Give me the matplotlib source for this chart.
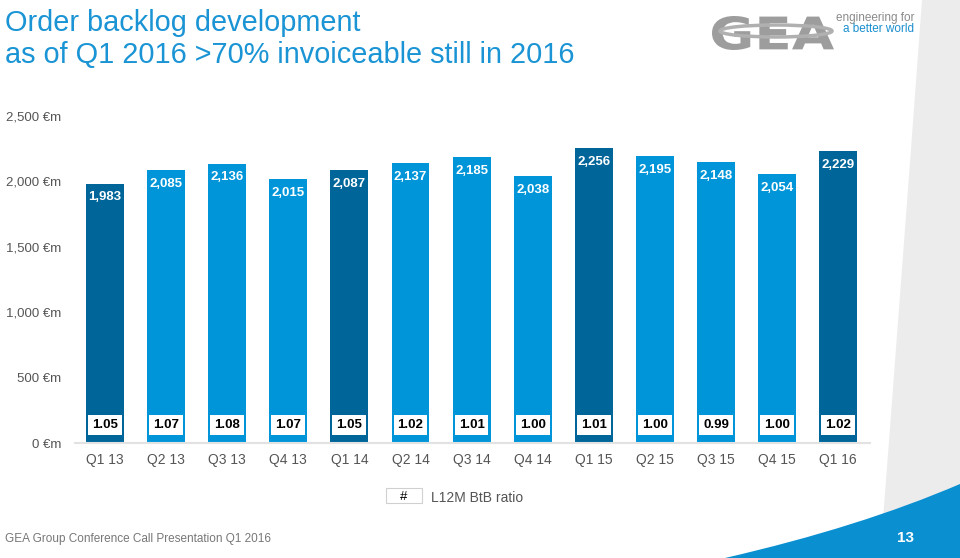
import numpy as np
import matplotlib.pyplot as plt
from matplotlib.patches import Rectangle, PathPatch, Ellipse
from matplotlib.path import Path
from matplotlib.textpath import TextPath
from matplotlib.font_manager import FontProperties
import matplotlib.transforms as mtransforms

quarters = ['Q1 13', 'Q2 13', 'Q3 13', 'Q4 13', 'Q1 14', 'Q2 14', 'Q3 14',
            'Q4 14', 'Q1 15', 'Q2 15', 'Q3 15', 'Q4 15', 'Q1 16']
backlog = [1983, 2085, 2136, 2015, 2087, 2137, 2185, 2038, 2256, 2195, 2148, 2054, 2229]
btb_ratio = ['1.05', '1.07', '1.08', '1.07', '1.05', '1.02', '1.01',
             '1.00', '1.01', '1.00', '0.99', '1.00', '1.02']
yticks = [0, 500, 1000, 1500, 2000, 2500]

dark = '#00669a'
light = '#0095d8'
grey_txt = '#555555'
colors = [dark if q.startswith('Q1') else light for q in quarters]

W, H = 960, 558
fig = plt.figure(figsize=(9.6, 5.58), dpi=100)
plt.rcParams['font.family'] = ['Liberation Sans', 'DejaVu Sans']

# background swoosh (bottom right)
bg = fig.add_axes([0, 0, 1, 1], zorder=-5)
bg.set_xlim(0, W)
bg.set_ylim(H, 0)
bg.axis('off')
grey_path = Path([(922, 0), (960, 0), (960, 558), (880, 558), (900, 300), (922, 0)],
                 [Path.MOVETO, Path.LINETO, Path.LINETO, Path.LINETO, Path.CURVE3, Path.CURVE3])
bg.add_patch(PathPatch(grey_path, fc='#ececec', ec='none'))
blue_path = Path([(725, 558), (860, 527), (960, 484), (960, 558), (725, 558)],
                 [Path.MOVETO, Path.CURVE3, Path.CURVE3, Path.LINETO, Path.CLOSEPOLY])
bg.add_patch(PathPatch(blue_path, fc='#0a8fd0', ec='none'))

# logo: stretch "GEA" into its box
tp = TextPath((0, 0), 'GEA', size=1, prop=FontProperties(family='DejaVu Sans', weight='bold'))
ext = tp.get_extents()
x0, x1, y0, y1 = 712, 834, 16, 50
logo_tf = mtransforms.Affine2D().translate(-ext.x0, -ext.y0) \
    .scale((x1 - x0) / ext.width, -(y1 - y0) / ext.height).translate(x0, y1)
bg.add_patch(PathPatch(logo_tf.transform_path(tp), fc='#9d9d9d', ec='none'))
bg.add_patch(Ellipse((776, 31), 112, 12, fill=False, ec='#b0b0b0', lw=2.5))
bg.text(836, 18, 'engineering for', fontsize=8.5, color='#8a8a8a', va='center', ha='left')
bg.text(843, 29, 'a better world', fontsize=8.5, color='#1b8fcf', va='center', ha='left')

# title and footer
fig.text(5 / W, 1 - 9 / H, 'Order backlog development\nas of Q1 2016 >70% invoiceable still in 2016',
         fontsize=20.8, color='#1a94d4', va='top', ha='left', linespacing=1.18)
fig.text(5 / W, 1 - 539 / H, 'GEA Group Conference Call Presentation Q1 2016',
         fontsize=8.5, color='#777777', va='center', ha='left')
fig.text(905 / W, 1 - 538 / H, '13', fontsize=11, color='white',
         fontweight='bold', va='center', ha='center')

# main chart
ax = fig.add_axes([75 / W, 1 - 443 / H, (870 - 75) / W, (443 - 116) / H])
x = np.arange(len(quarters))
ax.bar(x, backlog, width=0.62, color=colors, zorder=2)
ax.set_xlim(-0.49, 12.52)
ax.set_ylim(0, 2500)
for s in ['top', 'right', 'left']:
    ax.spines[s].set_visible(False)
ax.spines['bottom'].set_color('#e2e2e2')
ax.spines['bottom'].set_linewidth(1.5)
ax.set_yticks(yticks)
ax.set_yticklabels([f'{v:,} €m' for v in yticks], fontsize=9.5, color=grey_txt)
ax.set_xticks(x)
ax.set_xticklabels(quarters, fontsize=10, color=grey_txt)
ax.tick_params(length=0)
ax.tick_params(axis='y', pad=10)
ax.tick_params(axis='x', pad=7)

trans = mtransforms.blended_transform_factory(ax.transData, ax.transAxes)
for xi, v, r in zip(x, backlog, btb_ratio):
    ax.text(xi, v - 60, f'{v:,}', color='white', fontsize=9.5, fontweight='bold',
            ha='center', va='top')
    ax.text(xi, 0.055, r, transform=trans, color='black', fontsize=9.5,
            fontweight='bold', ha='center', va='center', zorder=3,
            bbox=dict(boxstyle='square,pad=0.3', fc='white', ec='none'))

# legend
bg.add_patch(Rectangle((386, 488), 36, 15, fc='white', ec='#d0d0d0', lw=0.8))
bg.text(404, 496, '#', fontsize=9.5, color='black', ha='center', va='center_baseline')
bg.text(431, 496, 'L12M BtB ratio', fontsize=10, color=grey_txt, ha='left', va='center_baseline')

fig.savefig('out.png', dpi=100)
